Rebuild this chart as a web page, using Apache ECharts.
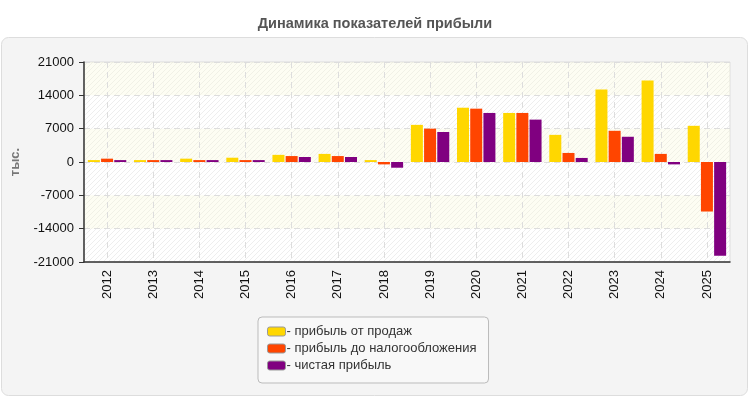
<!DOCTYPE html>
<html>
<head>
<meta charset="utf-8">
<script src="https://cdn.jsdelivr.net/npm/echarts@6/dist/echarts.min.js"></script>
<style>
  html, body { margin: 0; padding: 0; background: #fff; }
  #chart { width: 750px; height: 400px; }
</style>
</head>
<body>
<div id="chart"></div>
<script>
// годы
var years = ['2012', '2013', '2014', '2015', '2016', '2017', '2018', '2019', '2020', '2021', '2022', '2023', '2024', '2025'];
// прибыль от продаж, тыс.
var salesProfit = [400, 400, 700, 900, 1500, 1700, 400, 7800, 11400, 10300, 5700, 15200, 17100, 7600];
// прибыль до налогообложения
var preTaxProfit = [700, 400, 400, 400, 1250, 1250, -500, 7000, 11200, 10300, 1900, 6550, 1700, -10400];
// чистая прибыль
var netProfit = [400, 400, 400, 400, 1050, 1050, -1200, 6300, 10300, 8900, 850, 5300, -500, -19700];
var yTicks = [-21000, -14000, -7000, 0, 7000, 14000, 21000];

/*штриховка фона*/
function makeHatch() {
  var c = document.createElement('canvas');
  c.width = 5;
  c.height = 5;
  var ctx = c.getContext('2d');
  ctx.fillStyle = '#ffffff';
  ctx.fillRect(0, 0, 5, 5);
  ctx.strokeStyle = '#eeeeee';
  ctx.lineWidth = 1;
  ctx.beginPath();
  ctx.moveTo(0, 5);
  ctx.lineTo(5, 0);
  ctx.moveTo(-3, 3);
  ctx.lineTo(3, -3);
  ctx.moveTo(2, 8);
  ctx.lineTo(8, 2);
  ctx.stroke();
  return c;
}

var chart = echarts.init(document.getElementById('chart'));
var font = 'Liberation Sans, Arial, sans-serif';

chart.setOption({
  animation: false,
  backgroundColor: '#ffffff',
  textStyle: { fontFamily: font },
  title: {
    text: 'Динамика показателей прибыли',
    left: 'center',
    top: 11,
    textStyle: { fontSize: 14.5, fontWeight: 'bold', color: '#555555', fontFamily: font },
  },
  graphic: [
    {
      type: 'rect',
      z: -10,
      shape: { x: 1.5, y: 37.5, width: 746, height: 358, r: 7 },
      style: { fill: '#f4f4f4', stroke: '#dddddd', lineWidth: 1 },
    },
  ],
  legend: {
    orient: 'vertical',
    left: 258,
    top: 317,
    width: 233,
    padding: [8, 12, 11, 9],
    itemWidth: 18,
    itemHeight: 9,
    itemGap: 4,
    backgroundColor: '#f8f8f8',
    borderColor: '#bbbbbb',
    borderWidth: 1,
    borderRadius: 4,
    icon: 'roundRect',
    itemStyle: { borderColor: '#999999', borderWidth: 1 },
    formatter: function (name) { return '- ' + name; },
    textStyle: { fontSize: 13, color: '#333333', padding: [0, 0, 0, -4] },
  },
  grid: {
    left: 84,
    right: 20,
    top: 62,
    bottom: 138,
    show: true,
    backgroundColor: { image: makeHatch(), repeat: 'repeat' },
    borderColor: '#dddddd',
    borderWidth: 1,
  },
  xAxis: {
    type: 'category',
    data: years,
    boundaryGap: true,
    axisLine: { onZero: false, lineStyle: { color: '#333333', width: 1.5 } },
    axisTick: { alignWithLabel: true, length: 5, lineStyle: { color: '#333333' } },
    axisLabel: { rotate: 90, color: '#111111', fontSize: 13, margin: 8 },
    splitLine: { show: true, alignWithLabel: true, lineStyle: { color: '#dddddd', type: [6, 4] } },
  },
  yAxis: {
    type: 'value',
    min: yTicks[0],
    max: yTicks[yTicks.length - 1],
    interval: 7000,
    name: 'тыс.',
    nameLocation: 'middle',
    nameRotate: 90,
    nameGap: 62,
    nameTextStyle: { color: '#777777', fontSize: 13, fontWeight: 'bold' },
    axisLine: { show: true, lineStyle: { color: '#333333', width: 1.5 } },
    axisTick: { show: true, length: 5, lineStyle: { color: '#333333' } },
    axisLabel: { color: '#111111', fontSize: 13, margin: 10, formatter: function (v) { return String(v); } },
    splitLine: { show: true, lineStyle: { color: '#dddddd', type: [6, 4] } },
    splitArea: {
      show: true,
      areaStyle: { color: ['rgba(255,255,255,0)', 'rgba(250,250,215,0.3)'] },
    },
  },
  series: [
    {
      name: 'прибыль от продаж',
      type: 'bar',
      data: salesProfit,
      barWidth: 12,
      barGap: '10%',
      itemStyle: { color: '#ffd700' },
    },
    {
      name: 'прибыль до налогообложения',
      type: 'bar',
      data: preTaxProfit,
      barWidth: 12,
      barGap: '10%',
      itemStyle: { color: '#ff4500' },
    },
    {
      name: 'чистая прибыль',
      type: 'bar',
      data: netProfit,
      barWidth: 12,
      barGap: '10%',
      itemStyle: { color: '#800080' },
    },
  ],
});
</script>
</body>
</html>
